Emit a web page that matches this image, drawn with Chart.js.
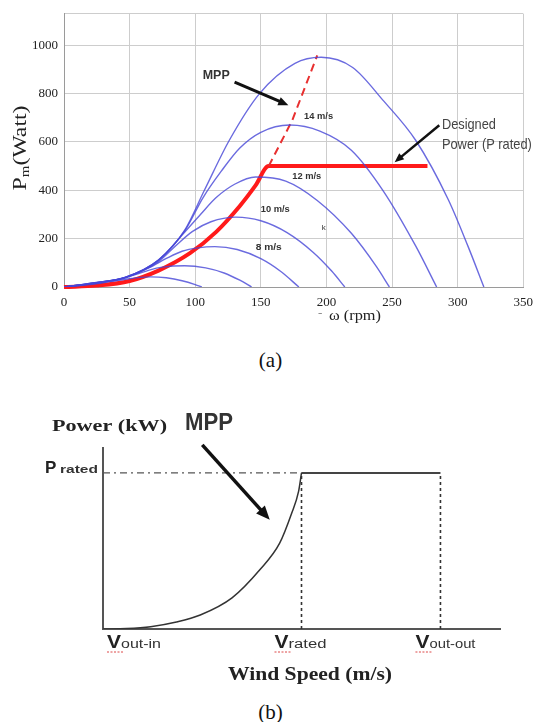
<!DOCTYPE html>
<html>
<head>
<meta charset="utf-8">
<script src="https://cdn.jsdelivr.net/npm/chart.js@4.4.0/dist/chart.umd.min.js"></script>
<style>
  body { margin: 0; width: 541px; height: 722px; background: #fff; position: relative; overflow: hidden; }
  canvas { position: absolute; left: 0; }
  #chartA { top: 0; }
  #chartB { top: 380px; }
  .cap { position: absolute; left: 0; width: 541px; text-align: center; font: 21px 'Liberation Serif', 'Times New Roman', serif; color: #111; line-height: 24px; }
</style>
</head>
<body>
<canvas id="chartA" width="541" height="335"></canvas>
<div class="cap" style="top:348px">(a)</div>
<canvas id="chartB" width="541" height="320"></canvas>
<div class="cap" style="top:700px">(b)</div>

<script>
// ---- (a) rotor power vs rotor speed, one curve per wind speed ----
const w16 = [0, 22, 47, 72, 92, 107, 126, 149, 176, 196, 220, 243, 268, 293, 308, 320];
const p16 = [0, 17, 41, 112, 235, 400, 607, 800, 925, 950, 908, 773, 607, 360, 167, 0];
const w14 = [0, 22, 47, 72, 92, 106, 120, 134, 150, 172, 195, 219, 243, 268, 284];
const p14 = [0, 17, 41, 112, 232, 370, 480, 575, 640, 670, 645, 566, 400, 170, 0];
const w12 = [0, 22, 47, 72, 90, 104, 116, 130, 146, 169, 193, 219, 238, 248];
const p12 = [0, 16, 40, 110, 215, 300, 370, 425, 455, 438, 358, 222, 85, 0];
const w10 = [0, 22, 47, 72, 85, 98, 112, 131, 150, 170, 190, 204, 214];
const p10 = [0, 16, 40, 105, 170, 230, 270, 289, 274, 225, 143, 66, 0];
const w8 = [0, 22, 47, 65, 78, 90, 102, 115, 132, 150, 165, 179];
const p8 = [0, 15, 38, 80, 118, 148, 162, 167, 155, 117, 65, 0];
const w6 = [0, 20, 40, 55, 65, 75, 92, 108, 122, 134, 143];
const p6 = [0, 12, 30, 52, 70, 82, 88, 79, 58, 28, 0];
const w4 = [0, 20, 35, 48, 58, 66, 78, 90, 100, 105];
const p4 = [0, 10, 22, 33, 40, 42, 38, 26, 10, 0];

// designed (tracked) power: MPP part then capped at P rated
const wTrack = [0, 25, 50, 72, 96, 116, 134, 146, 156, 277];
const pTrack = [0, 6, 25, 68, 140, 228, 335, 420, 500, 500];
const wMppDash = [156, 174, 193];
const pMppDash = [500, 690, 958];

const speedLabels = ['14 m/s', '12 m/s', '10 m/s', '8 m/s'];
const speedLabelW = [194, 185, 161, 156];
const speedLabelP = [707, 459, 322, 165];

// ---- (b) idealised power vs wind speed ----
const vCurve = [0, 1.2, 2.4, 3.7, 4.9, 6.5, 7.9, 8.9, 9.5, 9.85, 10];
const pCurve = [0, 0.003, 0.015, 0.045, 0.09, 0.2, 0.38, 0.55, 0.74, 0.88, 1];
const vRated = 10;
const vOut = 17;
const pRated = 1;
const vLabels = ['out-in', 'rated', 'out-out'];

const pts = (xs, ys) => xs.map((x, i) => ({ x: x, y: ys[i] }));

function txt(ctx, s, px, py, font, color, align, w) {
  ctx.save();
  ctx.font = font;
  ctx.fillStyle = color;
  ctx.textBaseline = 'middle';
  ctx.textAlign = align || 'left';
  if (w) {
    const m = ctx.measureText(s).width;
    ctx.translate(px, py);
    ctx.scale(w / m, 1);
    ctx.fillText(s, 0, 0);
  } else {
    ctx.fillText(s, px, py);
  }
  ctx.restore();
}

function arrow(ctx, x1, y1, x2, y2, lw, head) {
  const a = Math.atan2(y2 - y1, x2 - x1);
  ctx.save();
  ctx.strokeStyle = ctx.fillStyle = '#111';
  ctx.lineWidth = lw;
  ctx.beginPath();
  ctx.moveTo(x1, y1);
  ctx.lineTo(x2 - head * 0.8 * Math.cos(a), y2 - head * 0.8 * Math.sin(a));
  ctx.stroke();
  ctx.beginPath();
  ctx.moveTo(x2, y2);
  ctx.lineTo(x2 - head * Math.cos(a - 0.4), y2 - head * Math.sin(a - 0.4));
  ctx.lineTo(x2 - head * Math.cos(a + 0.4), y2 - head * Math.sin(a + 0.4));
  ctx.closePath();
  ctx.fill();
  ctx.restore();
}

const blue = 'rgba(70,70,215,0.8)';
const blueLine = (w, p) => ({ data: pts(w, p), showLine: true, borderColor: blue, borderWidth: 1.4, pointRadius: 0, cubicInterpolationMode: 'monotone' });

const notesA = {
  id: 'notesA',
  afterDatasetsDraw(chart) {
    const { ctx, scales: { x, y } } = chart;
    const X = v => x.getPixelForValue(v), Y = v => y.getPixelForValue(v);
    const narrow = "'Liberation Sans Narrow', 'Liberation Sans', Arial, sans-serif";

    // axis titles
    ctx.save();
    ctx.translate(21, 148);
    ctx.rotate(-Math.PI / 2);
    ctx.font = "19px 'Liberation Serif', serif";
    const wP = ctx.measureText('P').width, wW = ctx.measureText('(Watt)').width;
    ctx.font = "12px 'Liberation Serif', serif";
    const wm = ctx.measureText('m').width;
    const k = 85 / (wP + wm + wW);
    ctx.scale(k, 1);
    ctx.fillStyle = '#222';
    ctx.textBaseline = 'middle';
    let cx = -(wP + wm + wW) / 2;
    ctx.font = "19px 'Liberation Serif', serif";
    ctx.fillText('P', cx, 0);
    ctx.font = "12px 'Liberation Serif', serif";
    ctx.fillText('m', cx + wP, 5);
    ctx.font = "19px 'Liberation Serif', serif";
    ctx.fillText('(Watt)', cx + wP + wm, 0);
    ctx.restore();

    txt(ctx, '-', 318, 314, "13px 'Liberation Serif', serif", '#888', 'left');
    txt(ctx, 'ω (rpm)', 355, 316, "15px 'Liberation Serif', serif", '#222', 'center', 52);

    // MPP note
    txt(ctx, 'MPP', X(116), Y(876), 'bold 13px ' + narrow, '#333', 'center', 27);
    arrow(ctx, X(130), Y(847), X(171), Y(752), 3, 11);

    // wind speed labels
    speedLabels.forEach((s, i) => {
      txt(ctx, s, X(speedLabelW[i]), Y(speedLabelP[i]), 'bold 9px ' + narrow, '#333', 'center', i === 3 ? 26 : 29);
    });
    txt(ctx, 'k', X(198), Y(244), '8px ' + narrow, '#333', 'center');

    // designed power note
    txt(ctx, 'Designed', X(288), Y(669), '15px ' + narrow, '#444', 'left', 54);
    txt(ctx, 'Power (P rated)', X(288), Y(587), '15px ' + narrow, '#444', 'left', 90);
    arrow(ctx, X(286), Y(669), X(252), Y(516), 2.5, 10);
  }
};

new Chart(document.getElementById('chartA'), {
  type: 'scatter',
  data: {
    datasets: [
      blueLine(w16, p16), blueLine(w14, p14), blueLine(w12, p12), blueLine(w10, p10),
      blueLine(w8, p8), blueLine(w6, p6), blueLine(w4, p4),
      { data: pts(wMppDash, pMppDash), showLine: true, borderColor: '#e83030', borderWidth: 2, borderDash: [8, 5], pointRadius: 0 },
      { data: pts(wTrack, pTrack), showLine: true, borderColor: '#ff1a1a', borderWidth: 4, pointRadius: 0, cubicInterpolationMode: 'monotone', clip: false }
    ]
  },
  options: {
    responsive: false,
    animation: false,
    events: [],
    layout: { padding: { top: 13, right: 7, left: 0, bottom: 0 } },
    plugins: { legend: { display: false }, tooltip: { enabled: false } },
    scales: {
      x: {
        type: 'linear', min: 0, max: 350,
        ticks: { stepSize: 50, padding: 8, color: '#222', font: { family: "'Liberation Serif', serif", size: 13 } },
        grid: { color: '#cdcdcd', drawTicks: false },
        border: { color: '#9a9a9a' },
        afterFit: s => { s.height = 48; }
      },
      y: {
        min: 0, max: 1130,
        ticks: { stepSize: 200, padding: 6, color: '#222', font: { family: "'Liberation Serif', serif", size: 13 },
          callback: v => (v % 200 === 0 ? v : '') },
        grid: { color: '#cdcdcd', drawTicks: false },
        border: { color: '#9a9a9a' },
        afterFit: s => { s.width = 64; }
      }
    }
  },
  plugins: [notesA]
});

// ---- (b) ----
const notesB = {
  id: 'notesB',
  afterDatasetsDraw(chart) {
    const { ctx, scales: { x, y } } = chart;
    const X = v => x.getPixelForValue(v), Y = v => y.getPixelForValue(v);
    const sans = "'Liberation Sans', Arial, sans-serif";
    const narrow = "'Liberation Sans Narrow', 'Liberation Sans', Arial, sans-serif";
    const serifB = "bold 17px 'Liberation Serif', serif";

    txt(ctx, 'Power (kW)', 52, 47, serifB, '#222', 'left', 115);
    txt(ctx, 'MPP', 209, 43, 'bold 24px ' + narrow, '#333', 'center', 48);
    arrow(ctx, X(5.0), Y(1.18), X(8.4), Y(0.70), 3.5, 15);

    // P rated on the y axis
    txt(ctx, 'P', 45, Y(pRated) - 5, 'bold 17px ' + sans, '#222', 'left');
    txt(ctx, 'rated', 60, Y(pRated) - 3, 'bold 10px ' + narrow, '#333', 'left', 38);

    // V labels on the x axis
    const anchors = [X(0) + 4, X(vRated) - 27, X(vOut) - 25];
    const subW = [40, 38, 46];
    const yb = Y(0) + 14;
    anchors.forEach((ax, i) => {
      txt(ctx, 'V', ax, yb, 'bold 19px ' + sans, '#222', 'left', 14);
      txt(ctx, vLabels[i], ax + 14, yb + 2, '12px ' + narrow, '#333', 'left', subW[i]);
      ctx.save();
      ctx.strokeStyle = 'rgba(215,40,40,0.85)';
      ctx.lineWidth = 1;
      ctx.setLineDash([2, 1.5]);
      ctx.beginPath();
      ctx.moveTo(ax, yb + 9);
      ctx.lineTo(ax + 16, yb + 9);
      ctx.stroke();
      ctx.restore();
    });

    txt(ctx, 'Wind Speed (m/s)', 310, 295, "bold 18px 'Liberation Serif', serif", '#222', 'center', 164);
  }
};

new Chart(document.getElementById('chartB'), {
  type: 'scatter',
  data: {
    datasets: [
      { data: pts(vCurve, pCurve), showLine: true, borderColor: '#333', borderWidth: 1.5, pointRadius: 0, cubicInterpolationMode: 'monotone' },
      { data: pts([vRated, vOut], [pRated, pRated]), showLine: true, borderColor: '#444', borderWidth: 2, pointRadius: 0 },
      { data: pts([vRated, vRated], [0, pRated]), showLine: true, borderColor: '#333', borderWidth: 1.6, borderDash: [3, 3], pointRadius: 0 },
      { data: pts([vOut, vOut], [0, pRated]), showLine: true, borderColor: '#333', borderWidth: 1.6, borderDash: [3, 3], pointRadius: 0 },
      { data: pts([0, vRated], [pRated, pRated]), showLine: true, borderColor: '#555', borderWidth: 1.3, borderDash: [7, 4, 2, 4], pointRadius: 0 }
    ]
  },
  options: {
    responsive: false,
    animation: false,
    events: [],
    layout: { padding: { top: 68, right: 41, left: 0, bottom: 0 } },
    plugins: { legend: { display: false }, tooltip: { enabled: false } },
    scales: {
      x: {
        type: 'linear', min: 0, max: 20,
        ticks: { display: false },
        grid: { display: false },
        border: { display: true, color: '#555', width: 2 },
        afterFit: s => { s.height = 71; }
      },
      y: {
        min: 0, max: 1.16,
        ticks: { display: false },
        grid: { display: false },
        border: { display: true, color: '#555', width: 2 },
        afterFit: s => { s.width = 103; }
      }
    }
  },
  plugins: [notesB]
});
</script>
</body>
</html>
